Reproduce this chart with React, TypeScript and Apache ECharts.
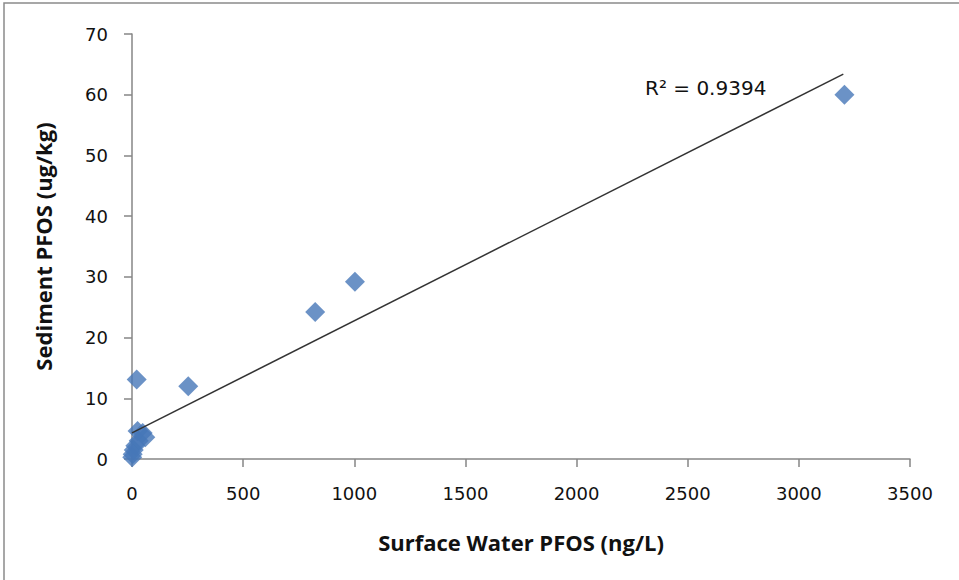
import React, { useEffect, useRef } from "react";
import * as echarts from "echarts";

const xTicks = [0, 500, 1000, 1500, 2000, 2500, 3000, 3500];
const yTicks = [0, 10, 20, 30, 40, 50, 60, 70];
const surfaceWater = [3205, 1003, 824, 253, 21, 48, 60, 30, 15, 8, 3, 1, 25];
const sediment = [60, 29.2, 24.2, 12, 13.1, 4.3, 3.6, 3, 2.2, 1.5, 0.8, 0.3, 4.6];
const trendX = [0, 3200];
const trendY = [4.3, 63.4];
const r2Label = "R² = 0.9394";

export default function App() {
  const ref = useRef<HTMLDivElement>(null);
  useEffect(() => {
    if (!ref.current) return;
    document.body.style.margin = "0";
    const chart = echarts.init(ref.current, null, { renderer: "svg" });
    const tickFont = "DejaVu Sans";
    const titleFont = "Open Sans";
    chart.setOption({
      animation: false,
      backgroundColor: "#ffffff",
      grid: { left: 132, top: 34, right: 49, bottom: 121 },
      xAxis: {
        type: "value",
        min: xTicks[0],
        max: xTicks[xTicks.length - 1],
        interval: 500,
        name: "Surface Water PFOS (ng/L)",
        nameLocation: "middle",
        nameGap: 72,
        nameTextStyle: { fontFamily: titleFont, fontWeight: "bold", fontSize: 22, color: "#111" },
        axisLine: { show: true, onZero: false, lineStyle: { color: "#868686", width: 1.5 } },
        axisTick: { show: true, length: 8, lineStyle: { color: "#868686", width: 1.5 } },
        axisLabel: { margin: 25, fontFamily: tickFont, fontSize: 18, color: "#111", formatter: (v: number) => String(v) },
        splitLine: { show: false },
      },
      yAxis: {
        type: "value",
        min: yTicks[0],
        max: yTicks[yTicks.length - 1],
        interval: 10,
        name: "Sediment PFOS (ug/kg)",
        nameLocation: "middle",
        nameGap: 78,
        nameRotate: 90,
        nameTextStyle: { fontFamily: titleFont, fontWeight: "bold", fontSize: 22, color: "#111" },
        axisLine: { show: true, onZero: false, lineStyle: { color: "#868686", width: 1.5 } },
        axisTick: { show: true, length: 8, lineStyle: { color: "#868686", width: 1.5 } },
        axisLabel: { margin: 24, fontFamily: tickFont, fontSize: 18, color: "#111", formatter: (v: number) => String(v) },
        splitLine: { show: false },
      },
      series: [
        {
          type: "scatter",
          symbol: "diamond",
          symbolSize: 20,
          itemStyle: { color: "#4677b8" },
          data: surfaceWater.map((x, i) => [x, sediment[i]]),
          z: 2,
        },
        {
          type: "line",
          showSymbol: false,
          symbol: "none",
          lineStyle: { color: "#333333", width: 1.5 },
          data: trendX.map((x, i) => [x, trendY[i]]),
          z: 3,
        },
      ],
      graphic: [
        {
          type: "rect",
          shape: { x: 4, y: 3, width: 1000, height: 1000 },
          style: { fill: "none", stroke: "#8a8a8a", lineWidth: 1.5 },
          silent: true,
        },
        {
          type: "text",
          x: 645,
          y: 88,
          style: {
            text: r2Label,
            fontFamily: tickFont,
            fontSize: 20,
            fill: "#111",
            textVerticalAlign: "middle",
          },
        },
      ],
    });
    return () => chart.dispose();
  }, []);
  return (
    <div
      ref={ref}
      style={{ position: "fixed", left: 0, top: 0, width: 959, height: 580 }}
    />
  );
}
